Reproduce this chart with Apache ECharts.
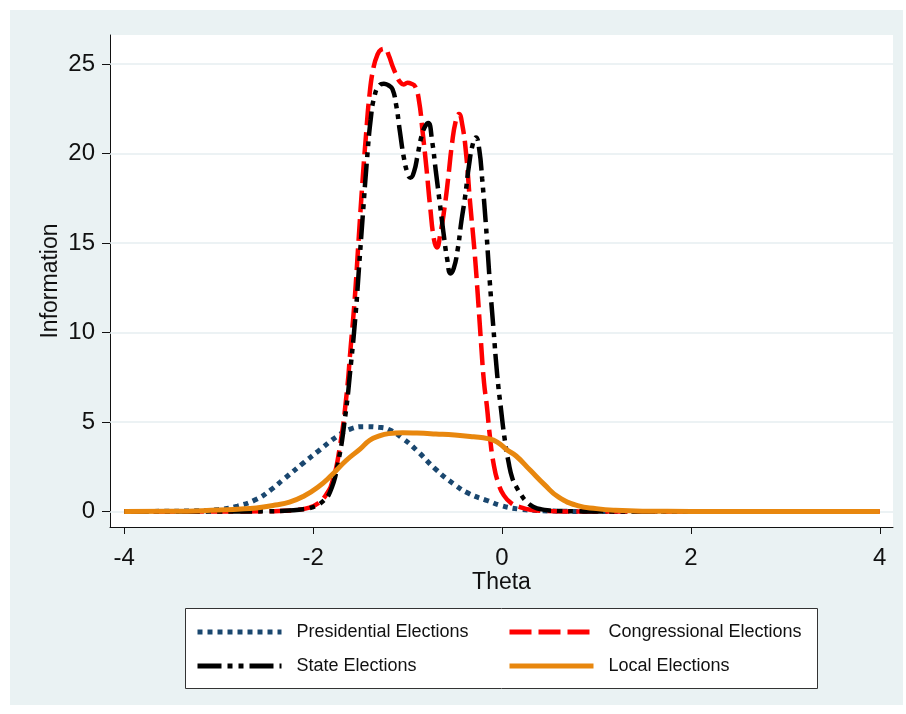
<!DOCTYPE html>
<html>
<head>
<meta charset="utf-8">
<script src="https://cdn.jsdelivr.net/npm/echarts@6/dist/echarts.min.js"></script>
<style>
html,body{margin:0;padding:0;background:#fff;}
#c{width:906px;height:714px;}
</style>
</head>
<body>
<div id="c"></div>
<script>
// ---- Data ----
const xTicks = [-4, -2, 0, 2, 4];
const yTicks = [0, 5, 10, 15, 20, 25];

const presTheta = [-4, -3.6, -3.3, -3.0, -2.8, -2.6, -2.45, -2.3, -2.1, -1.95, -1.75, -1.6, -1.45, -1.3, -1.2, -1.05, -0.9, -0.7, -0.5, -0.35, -0.15, 0, 0.2, 0.4, 0.7, 1.0, 1.5, 2, 3, 4];
const presVals  = [0, 0.01, 0.03, 0.11, 0.3, 0.68, 1.2, 1.85, 2.72, 3.35, 4.18, 4.62, 4.74, 4.7, 4.58, 4.08, 3.4, 2.35, 1.5, 1.0, 0.6, 0.32, 0.12, 0.05, 0.01, 0, 0, 0, 0, 0];

const congTheta = [-4, -3, -2.5, -2.3, -2.2, -2.05, -1.95, -1.86, -1.79, -1.72, -1.65, -1.6, -1.56, -1.52, -1.48, -1.44, -1.40, -1.36, -1.32, -1.28, -1.24, -1.20, -1.16, -1.12, -1.08, -1.04, -1.0, -0.96, -0.92, -0.88, -0.84, -0.80, -0.76, -0.72, -0.69, -0.65, -0.61, -0.57, -0.53, -0.49, -0.455, -0.42, -0.38, -0.34, -0.29, -0.255, -0.22, -0.19, -0.16, -0.13, -0.09, -0.04, 0.02, 0.1, 0.19, 0.3, 0.45, 0.7, 1, 2, 3, 4];
const congVals  = [0, 0, 0.01, 0.04, 0.07, 0.2, 0.45, 0.95, 1.76, 3.5, 6.3, 9.3, 11.8, 15.0, 18.2, 21.0, 23.4, 24.8, 25.5, 25.8, 25.85, 25.5, 24.9, 24.4, 24.0, 23.85, 23.95, 23.9, 23.75, 23.0, 21.2, 19.2, 17.0, 15.2, 14.75, 15.6, 16.9, 18.6, 20.5, 21.8, 22.2, 21.6, 20.0, 17.4, 14.5, 12.0, 9.3, 7.2, 5.9, 4.3, 2.7, 1.6, 0.9, 0.45, 0.25, 0.1, 0.03, 0.005, 0, 0, 0, 0];

const stateTheta = [-4, -3, -2.5, -2.3, -2.15, -2.0, -1.9, -1.82, -1.74, -1.66, -1.6, -1.55, -1.51, -1.47, -1.43, -1.39, -1.35, -1.30, -1.25, -1.20, -1.16, -1.12, -1.08, -1.04, -1.0, -0.97, -0.93, -0.89, -0.85, -0.81, -0.78, -0.74, -0.70, -0.66, -0.62, -0.58, -0.545, -0.51, -0.47, -0.43, -0.39, -0.35, -0.31, -0.275, -0.24, -0.21, -0.17, -0.13, -0.09, -0.05, -0.01, 0.03, 0.07, 0.11, 0.15, 0.2, 0.26, 0.33, 0.42, 0.6, 0.8, 1, 2, 3, 4];
const stateVals  = [0, 0, 0.01, 0.04, 0.1, 0.25, 0.55, 1.1, 2.6, 5.3, 8.2, 11.0, 13.9, 16.8, 19.6, 21.9, 23.2, 23.8, 23.9, 23.8, 23.6, 22.7, 21.2, 19.8, 18.9, 18.65, 19.0, 20.0, 21.0, 21.55, 21.7, 20.7, 19.0, 17.3, 15.6, 14.1, 13.3, 13.6, 14.6, 16.2, 17.6, 19.3, 20.5, 20.9, 20.2, 18.6, 16.0, 12.9, 10.2, 7.6, 5.7, 4.0, 2.75, 1.85, 1.4, 0.95, 0.55, 0.27, 0.12, 0.03, 0.01, 0, 0, 0, 0];

const localTheta = [-4, -3.5, -3.0, -2.8, -2.6, -2.4, -2.25, -2.1, -1.95, -1.8, -1.65, -1.5, -1.4, -1.3, -1.2, -1.05, -0.9, -0.7, -0.5, -0.3, -0.15, -0.05, 0.05, 0.15, 0.3, 0.45, 0.6, 0.8, 1.0, 1.2, 1.5, 2, 3, 4];
const localVals  = [0, 0.01, 0.08, 0.13, 0.2, 0.36, 0.52, 0.85, 1.35, 2.05, 2.85, 3.5, 3.98, 4.22, 4.35, 4.4, 4.38, 4.33, 4.27, 4.17, 4.07, 3.88, 3.45, 3.1, 2.3, 1.5, 0.8, 0.33, 0.16, 0.07, 0.02, 0.005, 0, 0];

const seriesNames = ['Presidential Elections', 'Congressional Elections', 'State Elections', 'Local Elections'];

function pairs(t, v) { return t.map((x, i) => [x, v[i]]); }

const chart = echarts.init(document.getElementById('c'), null, {renderer: 'canvas'});

const font = 'Liberation Sans, Arial, Helvetica, sans-serif';

const lineCommon = {
  type: 'line', symbol: 'none', showSymbol: false, smooth: 0.5,
  silent: true, animation: false
};

const legendBase = {
  orient: 'vertical', selectedMode: false, padding: 0,
  itemWidth: 84, itemHeight: 20,
  itemStyle: {opacity: 0},
  lineStyle: {width: 5},
  textStyle: {fontFamily: font, fontSize: 18, color: '#111', padding: [0, 0, 0, 10], lineHeight: 20}
};

const option = {
  backgroundColor: '#ffffff',
  animation: false,
  graphic: [
    {type: 'rect', z: -100, shape: {x: 10, y: 10, width: 893, height: 695}, style: {fill: '#eaf2f3'}, silent: true},
    {type: 'rect', z: 1, shape: {x: 185.5, y: 608.5, width: 632, height: 80}, style: {fill: '#ffffff', stroke: '#333', lineWidth: 1}, silent: true}
  ],
  grid: {left: 110, right: 13, top: 35, bottom: 187, show: true, backgroundColor: '#ffffff', borderWidth: 0, containLabel: false},
  xAxis: {
    type: 'value', min: -4.15, max: 4.14,
    name: 'Theta', nameLocation: 'middle', nameGap: 44, nameMoveOverlap: false,
    nameTextStyle: {fontFamily: font, fontSize: 23, color: '#111'},
    axisLine: {show: true, onZero: false, lineStyle: {color: '#111', width: 1}},
    axisTick: {show: true, inside: false, length: 7, customValues: xTicks, lineStyle: {color: '#111', width: 1}},
    axisLabel: {customValues: xTicks, fontFamily: font, fontSize: 24, color: '#111', margin: 19},
    splitLine: {show: false}
  },
  yAxis: {
    type: 'value', min: -0.866, max: 26.62,
    name: 'Information', nameLocation: 'middle', nameGap: 48, nameRotate: 90, nameMoveOverlap: false,
    nameTextStyle: {fontFamily: font, fontSize: 23, color: '#111'},
    axisLine: {show: true, onZero: false, lineStyle: {color: '#111', width: 1}},
    axisTick: {show: true, inside: false, length: 8, customValues: yTicks, lineStyle: {color: '#111', width: 1}},
    axisLabel: {customValues: yTicks, fontFamily: font, fontSize: 24, color: '#111', margin: 15},
    splitLine: {show: false}
  },
  legend: [
    Object.assign({}, legendBase, {left: 195, top: 622, data: [seriesNames[0]]}),
    Object.assign({}, legendBase, {left: 195, top: 656, data: [seriesNames[2]]}),
    Object.assign({}, legendBase, {left: 507, top: 622, data: [seriesNames[1]]}),
    Object.assign({}, legendBase, {left: 507, top: 656, data: [seriesNames[3]]})
  ],
  series: [
    Object.assign({}, lineCommon, {
      name: seriesNames[0], data: pairs(presTheta, presVals), z: 2,
      lineStyle: {color: '#1a476f', width: 5, type: [5, 5], cap: 'butt'},
      itemStyle: {color: '#1a476f'},
      markLine: {
        silent: true, symbol: ['none', 'none'], z: 1, animation: false,
        label: {show: false},
        lineStyle: {color: '#e6eef0', width: 1.5, type: 'solid'},
        emphasis: {disabled: true},
        data: yTicks.map(v => ({yAxis: v}))
      }
    }),
    Object.assign({}, lineCommon, {
      name: seriesNames[1], data: pairs(congTheta, congVals), z: 3,
      lineStyle: {color: '#ff0000', width: 4.5, type: [22, 7], cap: 'butt'},
      itemStyle: {color: '#ff0000'}
    }),
    Object.assign({}, lineCommon, {
      name: seriesNames[2], data: pairs(stateTheta, stateVals), z: 4,
      lineStyle: {color: '#000000', width: 4.5, type: [24, 6, 5, 6, 5, 6], cap: 'butt'},
      itemStyle: {color: '#000000'}
    }),
    Object.assign({}, lineCommon, {
      name: seriesNames[3], data: pairs(localTheta, localVals), z: 5,
      lineStyle: {color: '#e8870e', width: 5, type: 'solid'},
      itemStyle: {color: '#e8870e'}
    })
  ]
};

chart.setOption(option);
</script>
</body>
</html>
